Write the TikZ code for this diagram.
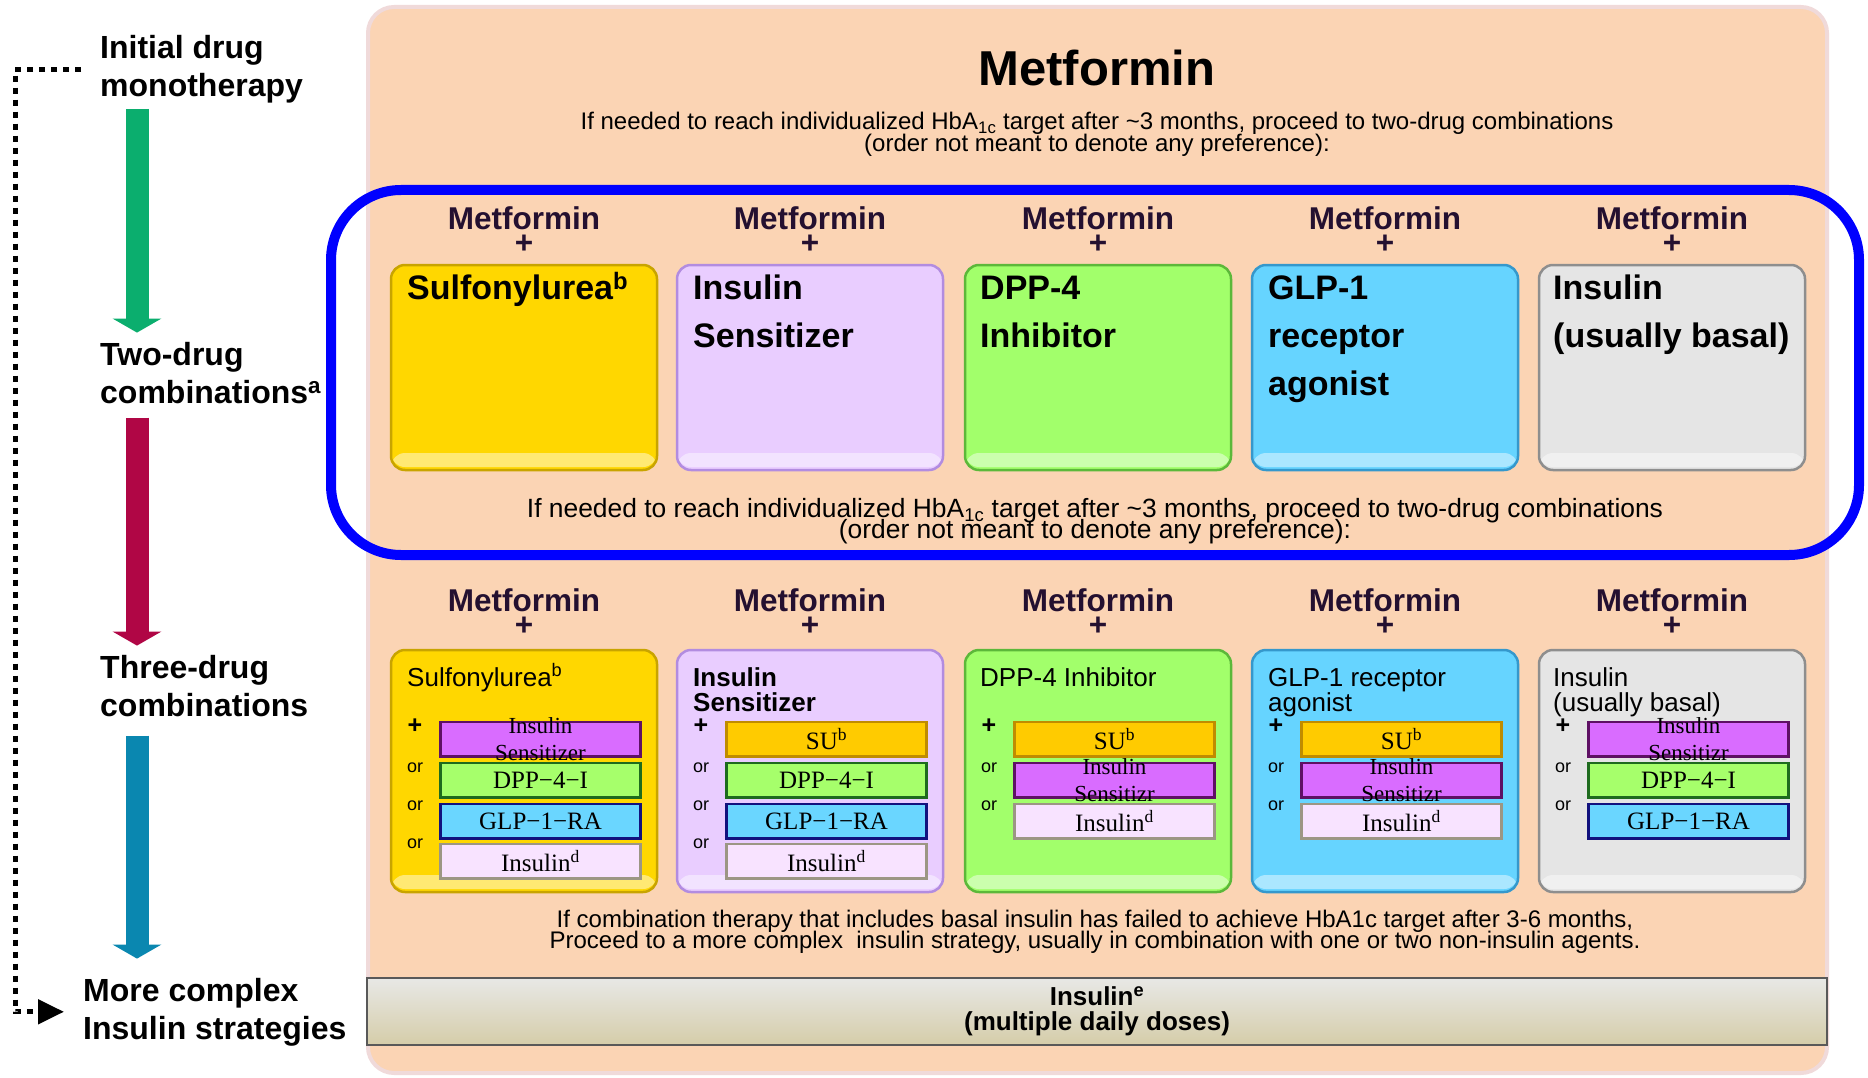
\documentclass[tikz,border=0pt]{standalone}
\usepackage{fontspec}
\setmainfont{Liberation Sans}
\newfontfamily\serifa{Liberation Serif}
\usepackage{xcolor}
\usetikzlibrary{arrows.meta,calc}

\definecolor{durazno}{HTML}{FBD4B4}
\definecolor{bordepanel}{HTML}{F0DADA}
\definecolor{azul}{HTML}{0000FF}
\definecolor{morado}{HTML}{241030}
\definecolor{oro}{HTML}{FFD700}
\definecolor{oroborde}{HTML}{C8A400}
\definecolor{lila}{HTML}{E9CDFF}
\definecolor{lilaborde}{HTML}{B28CE0}
\definecolor{lima}{HTML}{A2FF6B}
\definecolor{limaborde}{HTML}{5CB83A}
\definecolor{celeste}{HTML}{66D4FF}
\definecolor{celesteborde}{HTML}{3598CC}
\definecolor{gris}{HTML}{E5E5E5}
\definecolor{grisborde}{HTML}{8E8E8E}
\definecolor{sens}{HTML}{D96CFF}
\definecolor{sensborde}{HTML}{5E1064}
\definecolor{dpp}{HTML}{A6FF6B}
\definecolor{dppborde}{HTML}{1E6B1E}
\definecolor{glp}{HTML}{6AD6FF}
\definecolor{glpborde}{HTML}{12127E}
\definecolor{ins}{HTML}{F8E3FF}
\definecolor{insborde}{HTML}{9C9684}
\definecolor{sub}{HTML}{FFCB00}
\definecolor{subborde}{HTML}{C08C00}
\definecolor{flechaverde}{HTML}{0BAE6E}
\definecolor{flecharoja}{HTML}{B00645}
\definecolor{flechaazul}{HTML}{0A87B0}
\definecolor{barrasup}{HTML}{E8E8E6}
\definecolor{barrainf}{HTML}{D5CDA9}

\begin{document}
\begin{tikzpicture}[x=1pt, y=-1pt,
    panel/.style={draw=bordepanel, line width=4pt, fill=durazno, rounded corners=26pt, minimum width=1459pt, minimum height=1066pt, inner sep=0pt},
    marco/.style={draw=azul, line width=10pt, rounded corners=70pt, minimum width=1528pt, minimum height=365pt, inner sep=0pt},
    caja/.style={line width=2.5pt, rounded corners=14pt, minimum width=266pt, inner sep=0pt,
      path picture={\fill[white, opacity=.45] ([yshift=3pt]path picture bounding box.south west) rectangle ([yshift=17pt]path picture bounding box.south east);}},
    caja2/.style={caja, minimum height=205pt},
    caja3/.style={caja, minimum height=242pt},
    subcaja/.style={line width=2.5pt, minimum width=200pt, minimum height=34.5pt, inner sep=0pt, font=\serifa\fontsize{25}{27}\selectfont},
    subtxt/.style={align=center, inner sep=0pt, font={\serifa\fontsize{23}{27}\selectfont\lineskiplimit=-30pt}},
    titulo/.style={inner sep=0pt, font=\bfseries\fontsize{49}{49}\selectfont},
    nota/.style={align=center, inner sep=0pt, anchor=base, font={\fontsize{24}{22}\selectfont\lineskiplimit=-30pt}},
    nota2/.style={nota, font={\fontsize{26.4}{21}\selectfont\lineskiplimit=-30pt}},
    nota3/.style={nota, font={\fontsize{24}{21}\selectfont\lineskiplimit=-30pt}},
    metf/.style={align=center, inner sep=0pt, anchor=base, text=morado, font={\bfseries\fontsize{31.5}{24}\selectfont\lineskiplimit=-30pt}},
    etapa/.style={align=left, inner sep=0pt, anchor=base west, font=\bfseries\fontsize{32}{38}\selectfont},
    tit2/.style={align=left, inner sep=0pt, anchor=base west, font=\bfseries\fontsize{34}{48}\selectfont},
    tit3/.style={align=left, inner sep=0pt, anchor=base west, font={\fontsize{26}{25}\selectfont\lineskiplimit=-30pt}},
    tit3b/.style={tit3, font={\bfseries\fontsize{26}{25}\selectfont\lineskiplimit=-30pt}},
    opc/.style={inner sep=0pt, font=\fontsize{18}{18}\selectfont},
    mas/.style={inner sep=0pt, font=\bfseries\fontsize{25}{25}\selectfont},
    barra/.style={draw=black!65, line width=2pt, top color=barrasup, bottom color=barrainf, minimum width=1460pt, minimum height=67pt, align=center, inner sep=0pt, font={\bfseries\fontsize{26}{25}\selectfont\lineskiplimit=-30pt}},
    flecha/.style={line width=23pt, -{Triangle[length=14pt, width=48pt]}}
  ]
    \useasboundingbox (0,0) rectangle (1868,1078);

    % Fondo y titulo
    \node[panel] (panel) at (1097.5,540) {};
    \node[titulo] (met) at (1097,68) {Metformin};
    \node[nota] (nota1) at (1097,152) {If needed to reach individualized HbA\textsubscript{1c} target after \textasciitilde3 months, proceed to two-drug combinations\\(order not meant to denote any preference):};

    % Marco azul de las combinaciones dobles
    \node[marco] (marco) at (1095,372.5) {};

    % Combinaciones de dos farmacos
    \node[metf] (m21) at (524,253) {Metformin\\+};
    \node[metf] (m22) at (810,253) {Metformin\\+};
    \node[metf] (m23) at (1098,253) {Metformin\\+};
    \node[metf] (m24) at (1385,253) {Metformin\\+};
    \node[metf] (m25) at (1672,253) {Metformin\\+};

    \node[caja2, fill=oro, draw=oroborde] (su2) at (524,367.5) {};
    \node[caja2, fill=lila, draw=lilaborde] (sen2) at (810,367.5) {};
    \node[caja2, fill=lima, draw=limaborde] (dpp2) at (1098,367.5) {};
    \node[caja2, fill=celeste, draw=celesteborde] (glp2) at (1385,367.5) {};
    \node[caja2, fill=gris, draw=grisborde] (ins2) at (1672,367.5) {};

    \node[tit2] (su2t) at (407,299) {Sulfonylurea\textsuperscript{b}};
    \node[tit2] (sen2t) at (693,347) {Insulin\\Sensitizer};
    \node[tit2] (dpp2t) at (980,347) {DPP-4\\Inhibitor};
    \node[tit2] (glp2t) at (1268,395) {GLP-1\\receptor\\agonist};
    \node[tit2] (ins2t) at (1553,347) {Insulin\\(usually basal)};

    \node[nota2] (nota2) at (1095,538) {If needed to reach individualized HbA\textsubscript{1c} target after \textasciitilde3 months, proceed to two-drug combinations\\(order not meant to denote any preference):};

    % Combinaciones de tres farmacos
    \node[metf] (m31) at (524,635) {Metformin\\+};
    \node[metf] (m32) at (810,635) {Metformin\\+};
    \node[metf] (m33) at (1098,635) {Metformin\\+};
    \node[metf] (m34) at (1385,635) {Metformin\\+};
    \node[metf] (m35) at (1672,635) {Metformin\\+};

    \node[caja3, fill=oro, draw=oroborde] (su3) at (524,771) {};
    \node[caja3, fill=lila, draw=lilaborde] (sen3) at (810,771) {};
    \node[caja3, fill=lima, draw=limaborde] (dpp3) at (1098,771) {};
    \node[caja3, fill=celeste, draw=celesteborde] (glp3) at (1385,771) {};
    \node[caja3, fill=gris, draw=grisborde] (ins3) at (1672,771) {};

    \node[tit3] (su3t) at (407,686) {Sulfonylurea\textsuperscript{b}};
    \node[tit3b] (sen3t) at (693,711) {Insulin\\Sensitizer};
    \node[tit3] (dpp3t) at (980,686) {DPP-4 Inhibitor};
    \node[tit3] (glp3t) at (1268,711) {GLP-1 receptor\\agonist};
    \node[tit3] (ins3t) at (1553,711) {Insulin\\(usually basal)};

    % Columna 1
    \node[mas] (o1a) at (415,726) {+};
    \node[opc] (o1b) at (415,768) {or};
    \node[opc] (o1c) at (415,806) {or};
    \node[opc] (o1d) at (415,844) {or};
    \node[subcaja, fill=sens, draw=sensborde] (s1a) at (540.5,739) {};
    \node[subtxt] (s1at) at (s1a) {Insulin\\Sensitizer};
    \node[subcaja, fill=dpp, draw=dppborde] (s1b) at (540.5,780) {DPP−4−I};
    \node[subcaja, fill=glp, draw=glpborde] (s1c) at (540.5,821) {GLP−1−RA};
    \node[subcaja, fill=ins, draw=insborde] (s1d) at (540.5,861) {Insulin\textsuperscript{d}};

    % Columna 2
    \node[mas] (o2a) at (701,726) {+};
    \node[opc] (o2b) at (701,768) {or};
    \node[opc] (o2c) at (701,806) {or};
    \node[opc] (o2d) at (701,844) {or};
    \node[subcaja, fill=sub, draw=subborde] (s2a) at (826.5,739) {SU\textsuperscript{b}};
    \node[subcaja, fill=dpp, draw=dppborde] (s2b) at (826.5,780) {DPP−4−I};
    \node[subcaja, fill=glp, draw=glpborde] (s2c) at (826.5,821) {GLP−1−RA};
    \node[subcaja, fill=ins, draw=insborde] (s2d) at (826.5,861) {Insulin\textsuperscript{d}};

    % Columna 3
    \node[mas] (o3a) at (989,726) {+};
    \node[opc] (o3b) at (989,768) {or};
    \node[opc] (o3c) at (989,806) {or};
    \node[subcaja, fill=sub, draw=subborde] (s3a) at (1114.5,739) {SU\textsuperscript{b}};
    \node[subcaja, fill=sens, draw=sensborde] (s3b) at (1114.5,780) {};
    \node[subtxt] (s3bt) at (s3b) {Insulin\\Sensitizr};
    \node[subcaja, fill=ins, draw=insborde] (s3c) at (1114.5,821) {Insulin\textsuperscript{d}};

    % Columna 4
    \node[mas] (o4a) at (1276,726) {+};
    \node[opc] (o4b) at (1276,768) {or};
    \node[opc] (o4c) at (1276,806) {or};
    \node[subcaja, fill=sub, draw=subborde] (s4a) at (1401.5,739) {SU\textsuperscript{b}};
    \node[subcaja, fill=sens, draw=sensborde] (s4b) at (1401.5,780) {};
    \node[subtxt] (s4bt) at (s4b) {Insulin\\Sensitizr};
    \node[subcaja, fill=ins, draw=insborde] (s4c) at (1401.5,821) {Insulin\textsuperscript{d}};

    % Columna 5
    \node[mas] (o5a) at (1563,726) {+};
    \node[opc] (o5b) at (1563,768) {or};
    \node[opc] (o5c) at (1563,806) {or};
    \node[subcaja, fill=sens, draw=sensborde] (s5a) at (1688.5,739) {};
    \node[subtxt] (s5at) at (s5a) {Insulin\\Sensitizr};
    \node[subcaja, fill=dpp, draw=dppborde] (s5b) at (1688.5,780) {DPP−4−I};
    \node[subcaja, fill=glp, draw=glpborde] (s5c) at (1688.5,821) {GLP−1−RA};

    % Insulina compleja
    \node[nota3] (nota3) at (1095,948) {If combination therapy that includes basal insulin has failed to achieve HbA1c target after 3-6 months,\\Proceed to a more complex\ \ insulin strategy, usually in combination with one or two non-insulin agents.};
    \node[barra] (barra) at (1097,1011.5) {Insulin\textsuperscript{e}\\(multiple daily doses)};

    % Etapas a la izquierda
    \node[etapa] (ini) at (100,97) {Initial drug\\monotherapy};
    \node[etapa] (dos) at (100,403) {Two-drug\\combinations\textsuperscript{a}};
    \node[etapa] (tres) at (100,716) {Three-drug\\combinations};
    \node[etapa] (mas) at (83,1039) {More complex\\Insulin strategies};

    % Flechas entre etapas
    \coordinate (eje) at (137,0);
    \draw[flecha, flechaverde] ($(ini.south -| eje)+(0,5)$) -- ($(dos.north -| eje)+(0,-9)$);
    \draw[flecha, flecharoja] ($(dos.south -| eje)+(0,14)$) -- ($(tres.north -| eje)+(0,-9)$);
    \draw[flecha, flechaazul] ($(tres.south -| eje)+(0,19)$) -- ($(mas.north -| eje)+(0,-19)$);
    \draw[line width=5pt, dash pattern=on 6pt off 6pt, -{Triangle[length=26pt, width=24pt]}] ($(ini.west)+(-19,0)$) -- ++(-66,0) |- ($(mas.west)+(-19,0)$);

\end{tikzpicture}
\end{document}
